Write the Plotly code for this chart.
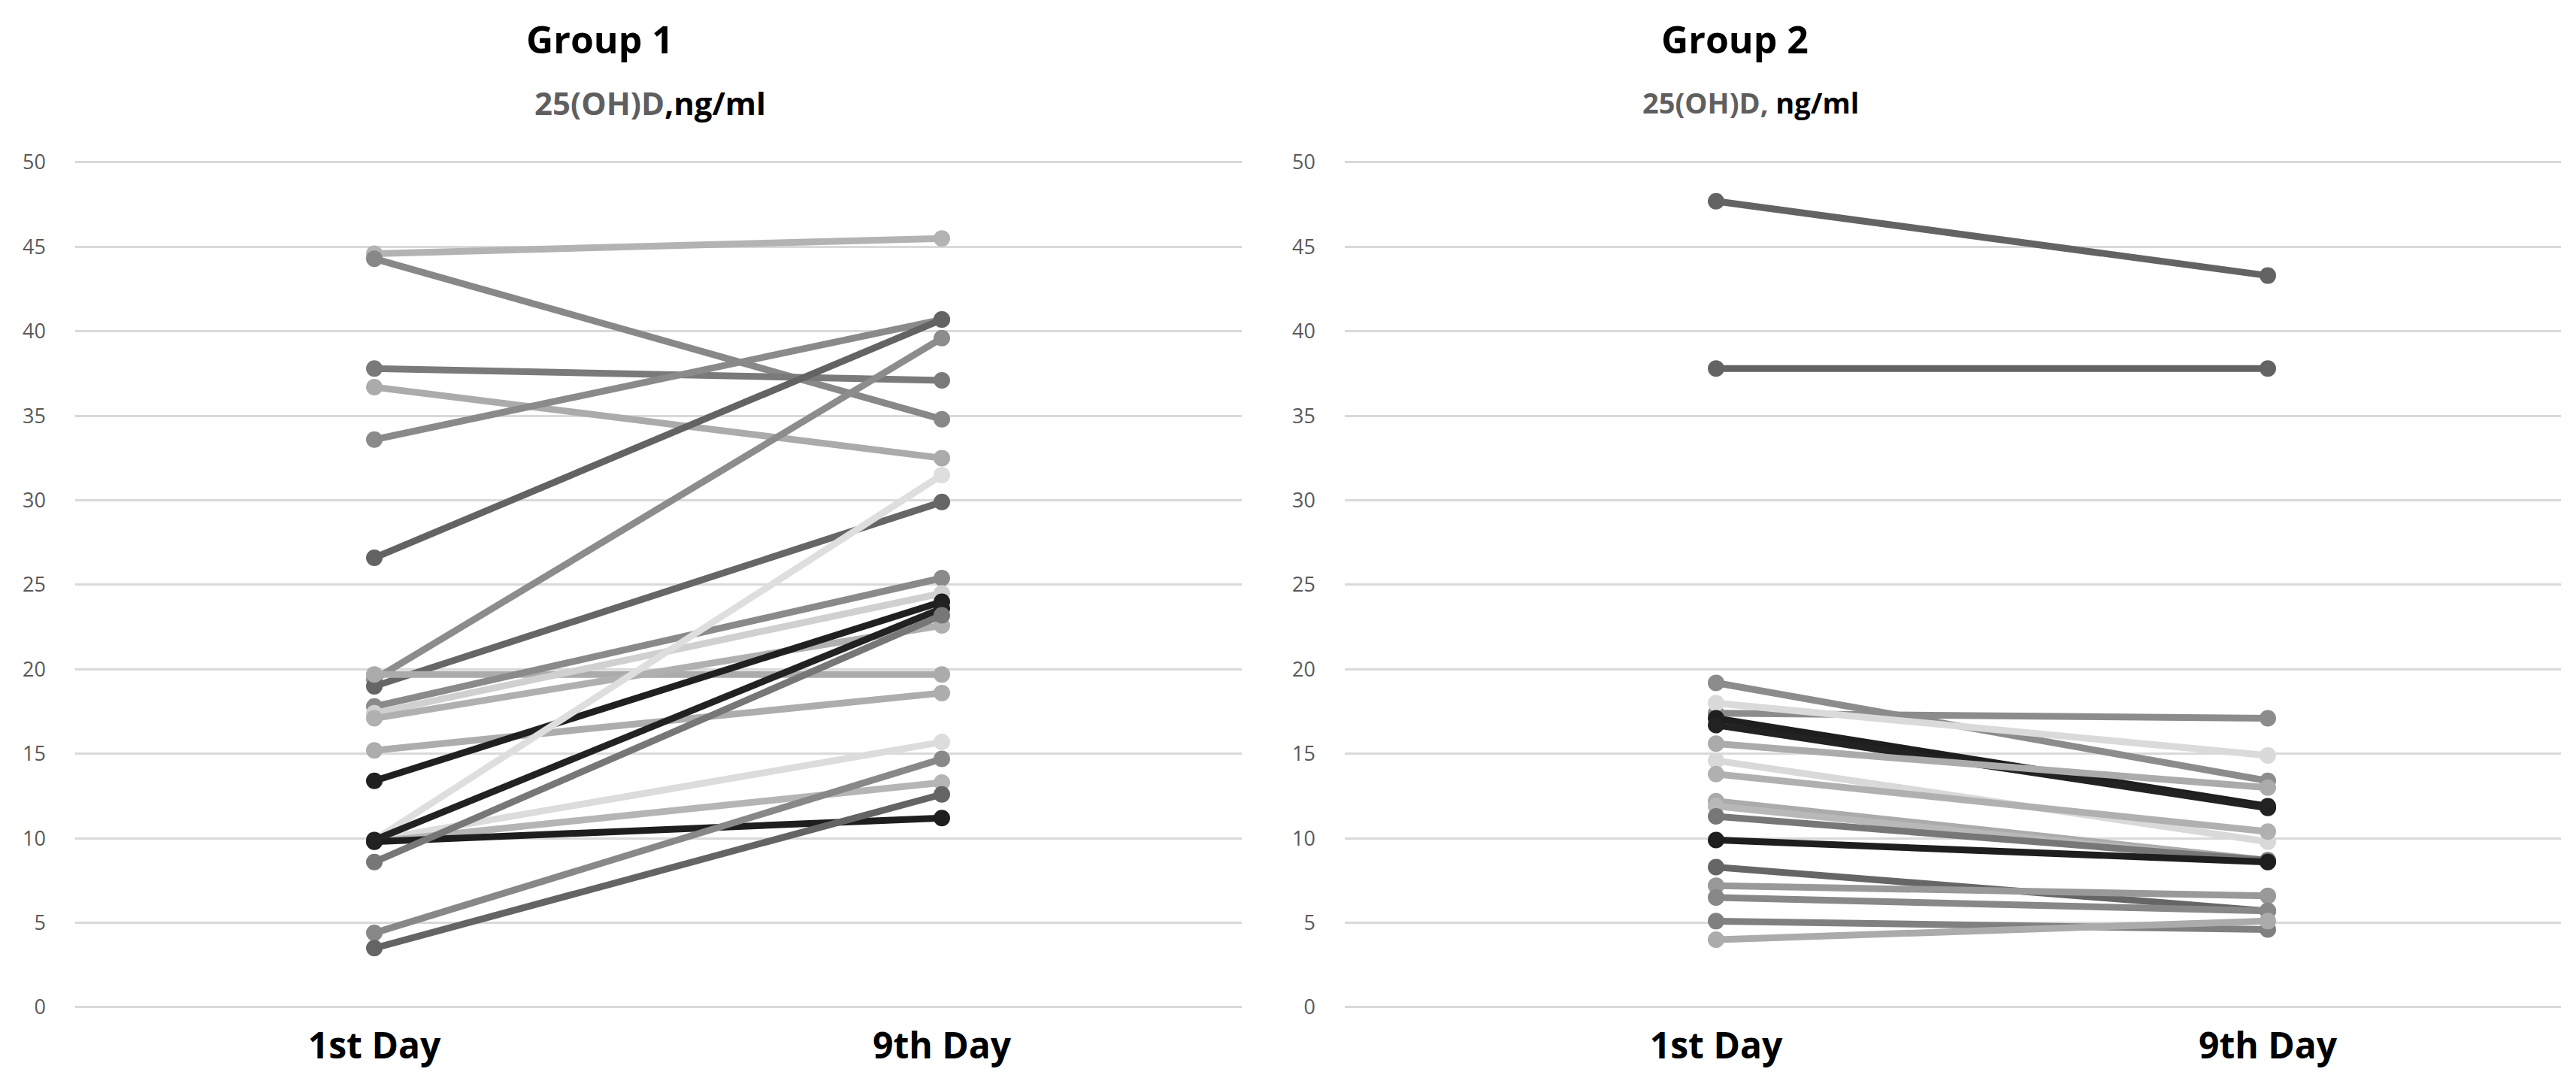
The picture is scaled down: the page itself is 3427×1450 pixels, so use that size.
import plotly.graph_objects as go

W, H = 3427, 1450

categories = ["1st Day", "9th Day"]
y_ticks = [0, 5, 10, 15, 20, 25, 30, 35, 40, 45, 50]

# Group 1: per-patient values (1st Day, 9th Day) and line colours
g1_day1 = [44.6, 44.3, 37.8, 36.7, 33.6, 26.6, 19.4, 19.0, 19.7, 17.8, 17.4, 17.1, 15.2, 13.4, 9.9, 9.8, 9.9, 9.8, 9.9, 8.6, 4.4, 3.5]
g1_day9 = [45.5, 34.8, 37.1, 32.5, 40.7, 40.7, 39.6, 29.9, 19.7, 25.4, 24.5, 22.6, 18.6, 24.0, 15.7, 13.3, 31.5, 11.2, 23.6, 23.2, 14.7, 12.6]
g1_colors = ["#b3b3b3", "#888888", "#7a7a7a", "#ababab", "#8a8a8a", "#636363", "#8c8c8c", "#666666",
             "#ababab", "#8a8a8a", "#d0d0d0", "#b0b0b0", "#adadad", "#202020", "#dcdcdc", "#b5b5b5",
             "#dedede", "#1e1e1e", "#222222", "#777777", "#888888", "#646464"]

# Group 2
g2_day1 = [47.7, 37.8, 19.2, 17.4, 18.0, 17.1, 16.7, 15.6, 14.6, 13.8, 12.2, 11.9, 11.3, 9.9, 8.3, 7.2, 6.5, 5.1, 4.0]
g2_day9 = [43.3, 37.8, 13.4, 17.1, 14.9, 11.9, 11.8, 13.0, 9.8, 10.4, 8.7, 8.6, 8.7, 8.6, 5.7, 6.6, 5.7, 4.6, 5.1]
g2_colors = ["#636363", "#636363", "#8c8c8c", "#8c8c8c", "#dadada", "#1e1e1e", "#222222", "#ababab",
             "#d9d9d9", "#b0b0b0", "#ababab", "#b8b8b8", "#777777", "#1e1e1e", "#666666", "#999999",
             "#888888", "#808080", "#ababab"]

fig = go.Figure()

def add_group(d1, d9, colors, xa, ya):
    for a, b, c in zip(d1, d9, colors):
        fig.add_trace(go.Scatter(
            x=[0, 1], y=[a, b], mode="lines+markers",
            line=dict(color=c, width=9),
            marker=dict(color=c, size=22),
            xaxis=xa, yaxis=ya, showlegend=False, hoverinfo="skip"))

add_group(g1_day1, g1_day9, g1_colors, "x", "y")
add_group(g2_day1, g2_day9, g2_colors, "x2", "y2")

# pixel geometry
y0_px, y50_px = 1332, 208
ppu = (y0_px - y50_px) / 50.0
pad = 0.3
dom_bottom = 1 - (y0_px + pad * ppu) / H
dom_top = 1 - (y50_px - pad * ppu) / H

def xrange(left_px, right_px, p0, p1):
    u = p1 - p0
    return [(left_px - p0) / u, (right_px - p0) / u]

L1, R1 = 92, 1644
L2, R2 = 1781, 3399
xr1 = xrange(L1, R1, 490, 1245)
xr2 = xrange(L2, R2, 2275, 3009)

tickfont_y = dict(family="Open Sans", size=27, color="#595959")
tickfont_x = dict(family="Open Sans", size=48, color="#000000")

yax = dict(range=[-pad, 50 + pad], tickvals=y_ticks, showgrid=True, gridcolor="#d9d9d9", gridwidth=3,
           zeroline=False, showline=False, ticks="", tickfont=tickfont_y, ticklabelstandoff=38,
           domain=[dom_bottom, dom_top], fixedrange=True, automargin=False)
xax = dict(tickvals=[0, 1], ticktext=["<b>%s</b>" % c for c in categories], showgrid=False,
           zeroline=False, showline=False, ticks="", tickfont=tickfont_x, ticklabelstandoff=12,
           automargin=False)

fig.update_layout(
    width=W, height=H, margin=dict(l=0, r=0, t=0, b=0),
    paper_bgcolor="white", plot_bgcolor="white",
    xaxis=dict(xax, range=xr1, domain=[L1 / W, R1 / W]),
    yaxis=dict(yax, anchor="x"),
    xaxis2=dict(xax, range=xr2, domain=[L2 / W, R2 / W]),
    yaxis2=dict(yax, anchor="x2"),
)

title_font = dict(family="Open Sans", size=50, color="#000000")
fig.add_annotation(text="<b>Group 1</b>", x=790 / W, y=1 - 44 / H, xref="paper", yref="paper",
                   showarrow=False, font=title_font, xanchor="center", yanchor="middle")
fig.add_annotation(text="<b><span style='color:#5f5f5f'>25(OH)D</span>,ng/ml</b>", x=857 / W, y=1 - 128 / H,
                   xref="paper", yref="paper", showarrow=False,
                   font=dict(family="Open Sans", size=42, color="#000000"), xanchor="center", yanchor="middle")
fig.add_annotation(text="<b>Group 2</b>", x=2300 / W, y=1 - 44 / H, xref="paper", yref="paper",
                   showarrow=False, font=title_font, xanchor="center", yanchor="middle")
fig.add_annotation(text="<b><span style='color:#5f5f5f'>25(OH)D,</span> ng/ml</b>", x=2321 / W, y=1 - 128 / H,
                   xref="paper", yref="paper", showarrow=False,
                   font=dict(family="Open Sans", size=38, color="#000000"), xanchor="center", yanchor="middle")

fig.write_html("out.html")
